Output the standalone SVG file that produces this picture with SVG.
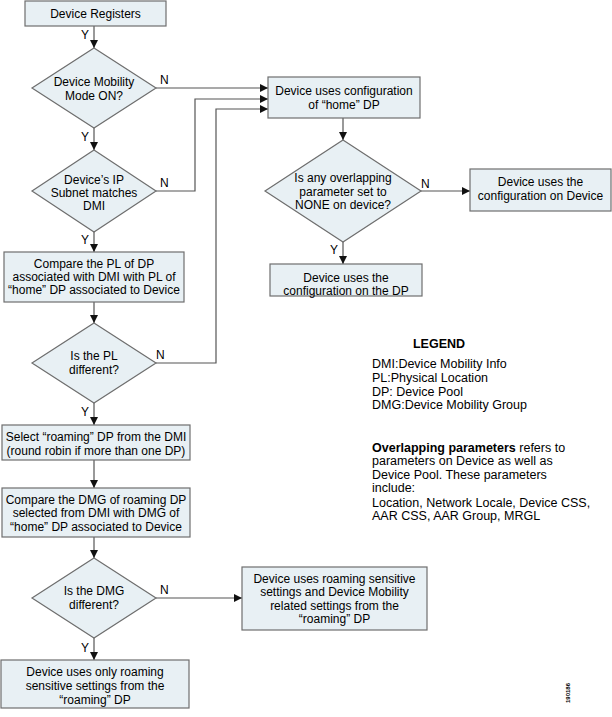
<svg xmlns="http://www.w3.org/2000/svg" width="612" height="717" viewBox="0 0 612 717">
<style>
.n{fill:#e8f0f4;stroke:#6e6e6e;stroke-width:1.2}
.t{font-family:"Liberation Sans",Arial,sans-serif;font-size:12px;fill:#000;text-anchor:middle}
.l{font-family:"Liberation Sans",Arial,sans-serif;font-size:12px;fill:#000}
.g{font-family:"Liberation Sans",Arial,sans-serif;font-size:12.5px;fill:#000}
.c{fill:none;stroke:#555;stroke-width:1.2}
</style>
<defs>
<marker id="a" viewBox="0 0 10 10" refX="10" refY="5" markerWidth="9" markerHeight="8" markerUnits="userSpaceOnUse" orient="auto"><path d="M0,0 L10,5 L0,10 z" fill="#111"/></marker>
</defs>
<rect width="612" height="717" fill="#fff"/>
<g id="connectors">
<path class="c" d="M94,26 V48" marker-end="url(#a)"/>
<path class="c" d="M156,88 H268" marker-end="url(#a)"/>
<path class="c" d="M94,128 V150" marker-end="url(#a)"/>
<path class="c" d="M156,191 H195 V99 H268" marker-end="url(#a)"/>
<path class="c" d="M94,232 V252" marker-end="url(#a)"/>
<path class="c" d="M94,302 V323" marker-end="url(#a)"/>
<path class="c" d="M156,363 H216 V109 H268" marker-end="url(#a)"/>
<path class="c" d="M94,403 V425" marker-end="url(#a)"/>
<path class="c" d="M94,460 V488" marker-end="url(#a)"/>
<path class="c" d="M94,537 V558" marker-end="url(#a)"/>
<path class="c" d="M156,598 H242" marker-end="url(#a)"/>
<path class="c" d="M94,638 V660" marker-end="url(#a)"/>
<path class="c" d="M343,118 V140" marker-end="url(#a)"/>
<path class="c" d="M421,191 H470" marker-end="url(#a)"/>
<path class="c" d="M343,242 V264" marker-end="url(#a)"/>
<text class="l" x="81" y="39">Y</text>
<text class="l" x="160" y="84">N</text>
<text class="l" x="81" y="141">Y</text>
<text class="l" x="160" y="187">N</text>
<text class="l" x="81" y="244">Y</text>
<text class="l" x="156" y="359">N</text>
<text class="l" x="81" y="416">Y</text>
<text class="l" x="160" y="594">N</text>
<text class="l" x="81" y="652">Y</text>
<text class="l" x="421" y="188">N</text>
<text class="l" x="330" y="254">Y</text>
</g>
<g id="n1"><rect class="n" x="25" y="1" width="141" height="25"/><text class="t" x="95.5" y="18">Device Registers</text></g>
<g id="d1"><polygon class="n" points="94,48 156,88 94,128 32,88"/><text class="t" x="94" y="86">Device Mobility</text><text class="t" x="94" y="100">Mode ON?</text></g>
<g id="d2"><polygon class="n" points="94,150 156,191 94,232 32,191"/><text class="t" x="94" y="184">Device’s IP</text><text class="t" x="94" y="197">Subnet matches</text><text class="t" x="94" y="210">DMI</text></g>
<g id="n2"><rect class="n" x="4" y="252" width="180" height="50"/><text class="t" x="94" y="268">Compare the PL of DP</text><text class="t" x="94" y="281">associated with DMI with PL of</text><text class="t" x="94" y="294">“home” DP associated to Device</text></g>
<g id="d3"><polygon class="n" points="94,323 156,363 94,403 32,363"/><text class="t" x="94" y="360">Is the PL</text><text class="t" x="94" y="374">different?</text></g>
<g id="n3"><rect class="n" x="2" y="425" width="188" height="35"/><text class="t" x="96" y="441">Select “roaming” DP from the DMI</text><text class="t" x="96" y="455">(round robin if more than one DP)</text></g>
<g id="n4"><rect class="n" x="2" y="488" width="188" height="49"/><text class="t" x="96" y="504">Compare the DMG of roaming DP</text><text class="t" x="96" y="517">selected from  DMI with DMG of</text><text class="t" x="96" y="531">“home” DP associated to Device</text></g>
<g id="d4"><polygon class="n" points="94,558 156,598 94,638 32,598"/><text class="t" x="94" y="595">Is the DMG</text><text class="t" x="94" y="609">different?</text></g>
<g id="n5"><rect class="n" x="1" y="660" width="188" height="48"/><text class="t" x="95" y="676">Device uses only roaming</text><text class="t" x="95" y="690">sensitive settings from the</text><text class="t" x="95" y="704">“roaming” DP</text></g>
<g id="n6"><rect class="n" x="242" y="567" width="185" height="63"/><text class="t" x="334.5" y="583">Device uses roaming sensitive</text><text class="t" x="334.5" y="596">settings and Device Mobility</text><text class="t" x="334.5" y="610">related settings from the</text><text class="t" x="334.5" y="623">“roaming” DP</text></g>
<g id="n7"><rect class="n" x="268" y="77" width="152" height="41"/><text class="t" x="344" y="95">Device uses configuration</text><text class="t" x="344" y="109">of “home” DP</text></g>
<g id="d5"><polygon class="n" points="343,140 421,191 343,242 265,191"/><text class="t" x="343" y="182">Is any overlapping</text><text class="t" x="343" y="196">parameter set to</text><text class="t" x="343" y="209">NONE on device?</text></g>
<g id="n8"><rect class="n" x="470" y="169" width="141" height="42"/><text class="t" x="540.5" y="186">Device uses the</text><text class="t" x="540.5" y="200">configuration on Device</text></g>
<g id="n9"><rect class="n" x="270" y="264" width="152" height="32"/><text class="t" x="346" y="282">Device uses the</text><text class="t" x="346" y="295">configuration on the DP</text></g>
<g id="legend">
<text class="g" x="439" y="348" font-weight="bold" text-anchor="middle">LEGEND</text>
<text class="g" x="372" y="368">DMI:Device Mobility Info</text>
<text class="g" x="372" y="382">PL:Physical Location</text>
<text class="g" x="372" y="396">DP: Device Pool</text>
<text class="g" x="372" y="409">DMG:Device Mobility Group</text>
<text class="g" x="372" y="452"><tspan font-weight="bold">Overlapping parameters</tspan> refers to</text>
<text class="g" x="372" y="465">parameters on Device as well as</text>
<text class="g" x="372" y="479">Device Pool. These parameters</text>
<text class="g" x="372" y="492">include:</text>
<text class="g" x="372" y="507">Location, Network Locale, Device CSS,</text>
<text class="g" x="372" y="520">AAR CSS, AAR Group, MRGL</text>
</g>
<text x="570" y="703" transform="rotate(-90 570 703)" font-family="Liberation Sans,Arial,sans-serif" font-size="6" font-weight="bold" fill="#000">190186</text>
</svg>
